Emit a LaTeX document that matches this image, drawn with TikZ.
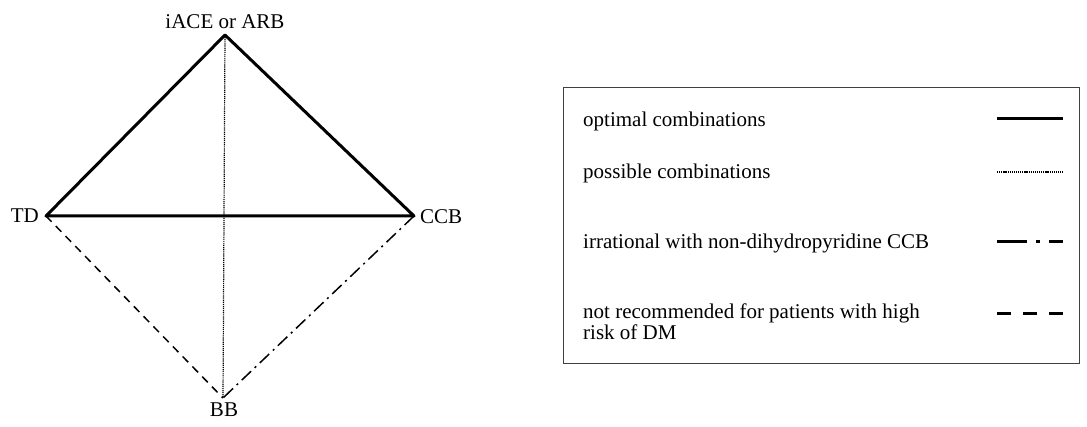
\documentclass[tikz,border=0pt]{standalone}
\usepackage{fontspec}
\setmainfont{Liberation Serif}
\begin{document}
\begin{tikzpicture}[x=1pt,y=-1pt,
  lbl/.style={font=\fontsize{21}{24}\selectfont, inner sep=0pt},
  optline/.style={line width=3pt},
  posline/.style={line width=1.2pt, dash pattern=on 1.2pt off 0.9pt},
  irrline/.style={line width=1.5pt, dash pattern=on 13pt off 5pt on 2pt off 5pt},
  notline/.style={line width=1.5pt, dash pattern=on 8pt off 6pt}]
\useasboundingbox (0,0) rectangle (1087,427);
\coordinate (A) at (225,35);
\coordinate (T) at (46,216);
\coordinate (C) at (414,216);
\coordinate (B) at (223,398);
\node[lbl, anchor=south] (la) at (225,29) {iACE or ARB};
\node[lbl, anchor=east] (lt) at (39,216) {TD};
\node[lbl, anchor=west] (lc) at (420,217) {CCB};
\node[lbl, anchor=north] (lb) at (224,403) {BB};
\draw[posline] (A) -- (B);
\draw[notline] (T) -- (B);
\draw[irrline] (C) -- (B);
\draw[optline, line join=round] (T) -- (A) -- (C) -- cycle;
% legend
\draw[line width=1pt, draw=black!75] (563,88) rectangle (1079,364);
\node[lbl, anchor=west] (t1) at (583,121) {optimal combinations};
\node[lbl, anchor=west] (t2) at (583,173) {possible combinations};
\node[lbl, anchor=west] (t3) at (583,243) {irrational with non-dihydropyridine CCB};
\node[lbl, anchor=north west, align=left] (t4) at (583,304) {not recommended for patients with high\\[-3pt]risk of DM};
\coordinate (s1a) at (997,119); \coordinate (s1b) at (1063,119);
\coordinate (s2a) at (997,172); \coordinate (s2b) at (1063,172);
\coordinate (s3a) at (997,242); \coordinate (s3b) at (1063,242);
\coordinate (s4a) at (997,314); \coordinate (s4b) at (1063,314);
\draw[optline] (s1a) -- (s1b);
\draw[posline] (s2a) -- (s2b);
\draw[line width=3pt, dash pattern=on 30pt off 9pt on 4pt off 9pt] (s3a) -- (s3b);
\draw[line width=3pt, dash pattern=on 14pt off 12pt] (s4a) -- (s4b);
\end{tikzpicture}
\end{document}
